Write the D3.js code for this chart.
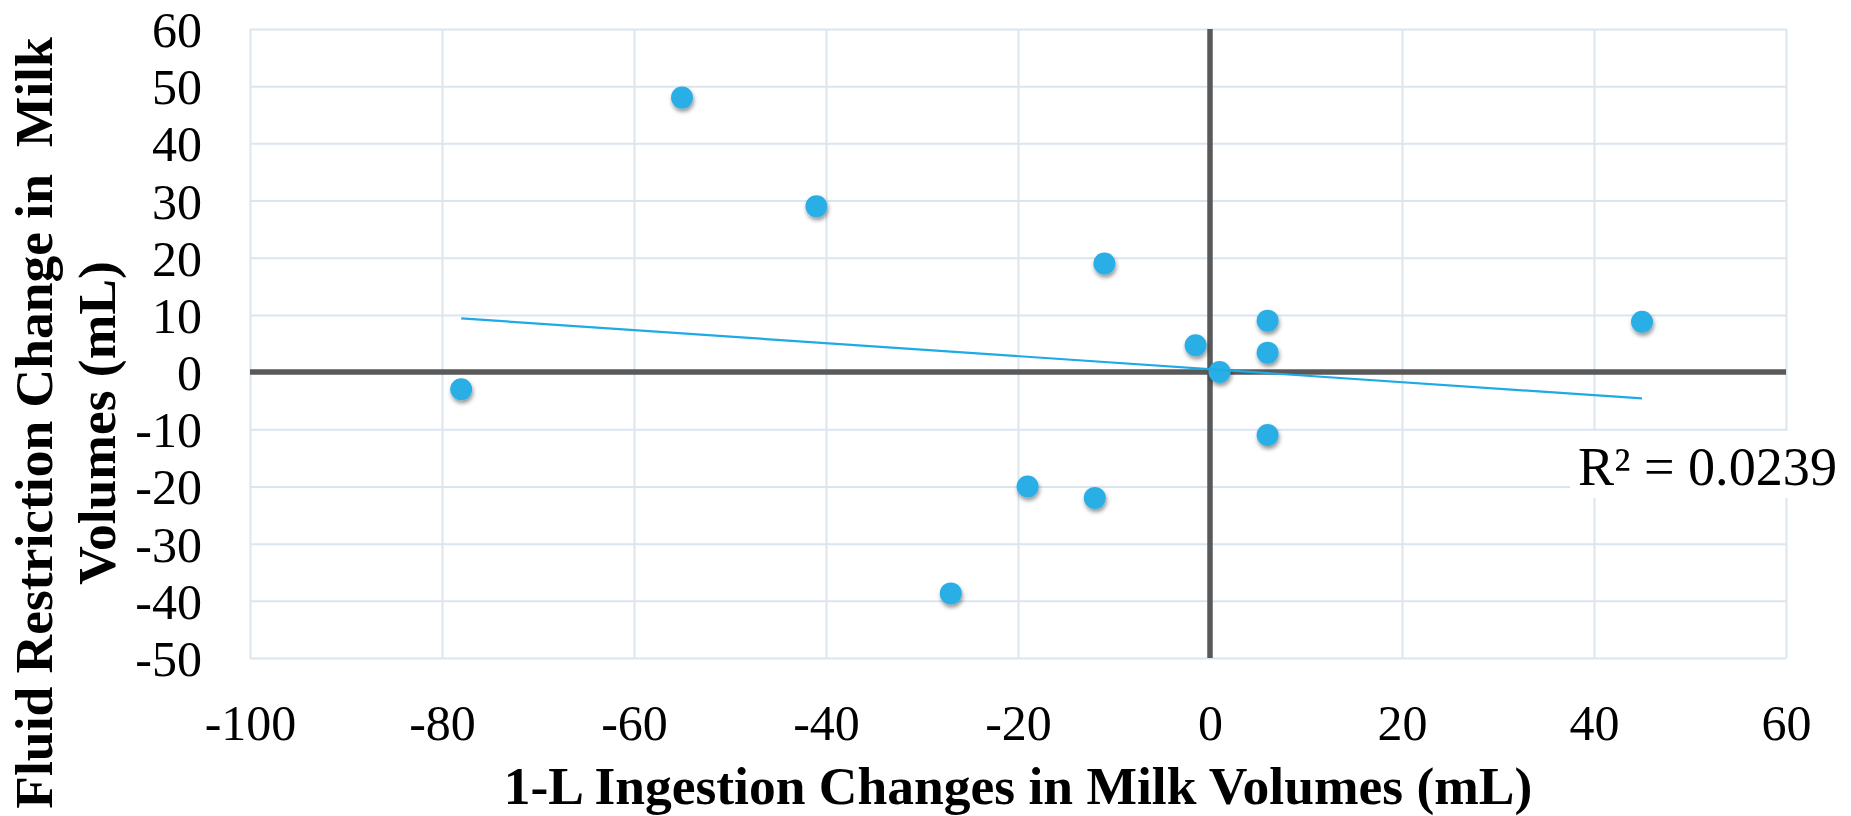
<!DOCTYPE html>
<html>
<head>
<meta charset="utf-8">
<script src="https://cdn.jsdelivr.net/npm/d3@7"></script>
<style>
  html, body { margin: 0; padding: 0; background: #ffffff; }
  svg { display: block; }
  text { font-family: "Liberation Serif", "Times New Roman", Times, serif; fill: #000; }
</style>
</head>
<body>
<svg id="chart" width="1851" height="816"></svg>
<script>
// 1-L ingestion change (x) vs fluid restriction change (y), mL
const ingestionChange = [-78, -55, -41, -11, -1.5, 1, 6, 6, 6, 45, -19, -12, -27];
const restrictionChange = [-3, 48, 29, 19, 4.7, 0, 9, 3.4, -11, 8.8, -20, -22, -38.7];

const xTicks = [-100, -80, -60, -40, -20, 0, 20, 40, 60];
const yTicks = [60, 50, 40, 30, 20, 10, 0, -10, -20, -30, -40, -50];

const xTitle = "1-L Ingestion Changes in Milk Volumes (mL)";
const yTitleLines = ["Fluid Restriction Change in  Milk", "Volumes (mL)"];
const rSquaredLabel = "R\u00B2 = 0.0239";

const W = 1851, H = 816;
const plot = { left: 250, right: 1786, top: 29, bottom: 658 };

const svg = d3.select("#chart");

const x = d3.scaleLinear().domain([-100, 60]).range([plot.left, plot.right]);
const y = d3.scaleLinear().domain([-50, 60]).range([plot.bottom, plot.top]);

// soft drop shadow under markers
const defs = svg.append("defs");
const f = defs.append("filter").attr("id", "dotShadow")
  .attr("x", "-50%").attr("y", "-50%").attr("width", "200%").attr("height", "200%");
f.append("feDropShadow").attr("dx", 1).attr("dy", 3).attr("stdDeviation", 2.2)
  .attr("flood-color", "#000").attr("flood-opacity", 0.42);

// gridlines
const gridColor = "#dbe5ee";
const gx = svg.append("g").attr("transform", `translate(0,${plot.bottom})`)
  .call(d3.axisBottom(x).tickValues(xTicks).tickSize(-(plot.bottom - plot.top)).tickFormat(""));
gx.select(".domain").remove();
gx.selectAll("line").attr("stroke", gridColor).attr("stroke-width", 2);

const gy = svg.append("g").attr("transform", `translate(${plot.left},0)`)
  .call(d3.axisLeft(y).tickValues(yTicks).tickSize(-(plot.right - plot.left)).tickFormat(""));
gy.select(".domain").remove();
gy.selectAll("line").attr("stroke", gridColor).attr("stroke-width", 2);

// tick labels
const xl = svg.append("g").attr("transform", `translate(0,${plot.bottom})`)
  .call(d3.axisBottom(x).tickValues(xTicks).tickSize(0).tickPadding(0).tickFormat(d => String(d)));
xl.select(".domain").remove();
xl.selectAll("text")
  .attr("y", 82).attr("dy", null)
  .style("font-size", "50px").attr("fill", "#000");

const yl = svg.append("g").attr("transform", `translate(${plot.left},0)`)
  .call(d3.axisLeft(y).tickValues(yTicks).tickSize(0).tickPadding(0).tickFormat(d => String(d)));
yl.select(".domain").remove();
yl.selectAll("text")
  .attr("x", -48).attr("dy", null).attr("y", 17.5)
  .style("font-size", "50px").attr("fill", "#000");

// zero axes
svg.append("line")
  .attr("x1", x(0)).attr("x2", x(0)).attr("y1", plot.top).attr("y2", plot.bottom)
  .attr("stroke", "#595959").attr("stroke-width", 5.5);
svg.append("line")
  .attr("x1", plot.left).attr("x2", plot.right).attr("y1", y(0)).attr("y2", y(0))
  .attr("stroke", "#595959").attr("stroke-width", 5.5);

// R² label with white backing
svg.append("rect")
  .attr("x", 1570).attr("y", 431).attr("width", W - 1570).attr("height", 67)
  .attr("fill", "#fff");
svg.append("text")
  .attr("x", 1578).attr("y", 485)
  .attr("textLength", 259).attr("lengthAdjust", "spacingAndGlyphs")
  .style("font-size", "54px")
  .text(rSquaredLabel);

// data points
const pts = ingestionChange.map((v, i) => ({ x: v, y: restrictionChange[i] }));
svg.append("g").attr("filter", "url(#dotShadow)")
  .selectAll("circle").data(pts).join("circle")
  .attr("cx", d => x(d.x)).attr("cy", d => y(d.y)).attr("r", 11)
  .attr("fill", "#2aaee6");

// least-squares linear trendline over the data's x range
const mx = d3.mean(pts, d => d.x), my = d3.mean(pts, d => d.y);
const sxy = d3.sum(pts, d => (d.x - mx) * (d.y - my));
const sxx = d3.sum(pts, d => (d.x - mx) ** 2);
const slope = sxy / sxx, intercept = my - slope * mx;
const [xmin, xmax] = d3.extent(pts, d => d.x);
svg.append("path")
  .datum([xmin, xmax])
  .attr("d", d3.line().x(d => x(d)).y(d => y(intercept + slope * d)))
  .attr("stroke", "#1eaae4").attr("stroke-width", 2.2).attr("fill", "none");

// axis titles
svg.append("text")
  .attr("x", (plot.left + plot.right) / 2).attr("y", 804)
  .attr("text-anchor", "middle")
  .style("font-size", "53.5px").style("font-weight", "bold")
  .text(xTitle);

const yTitle = svg.append("text")
  .attr("transform", "translate(0,423) rotate(-90)")
  .attr("text-anchor", "middle")
  .style("font-size", "53.5px").style("font-weight", "bold")
  .style("white-space", "pre");
yTitle.append("tspan").attr("x", 0).attr("y", 52).text(yTitleLines[0]);
yTitle.append("tspan").attr("x", 0).attr("y", 115).text(yTitleLines[1]);
</script>
</body>
</html>
